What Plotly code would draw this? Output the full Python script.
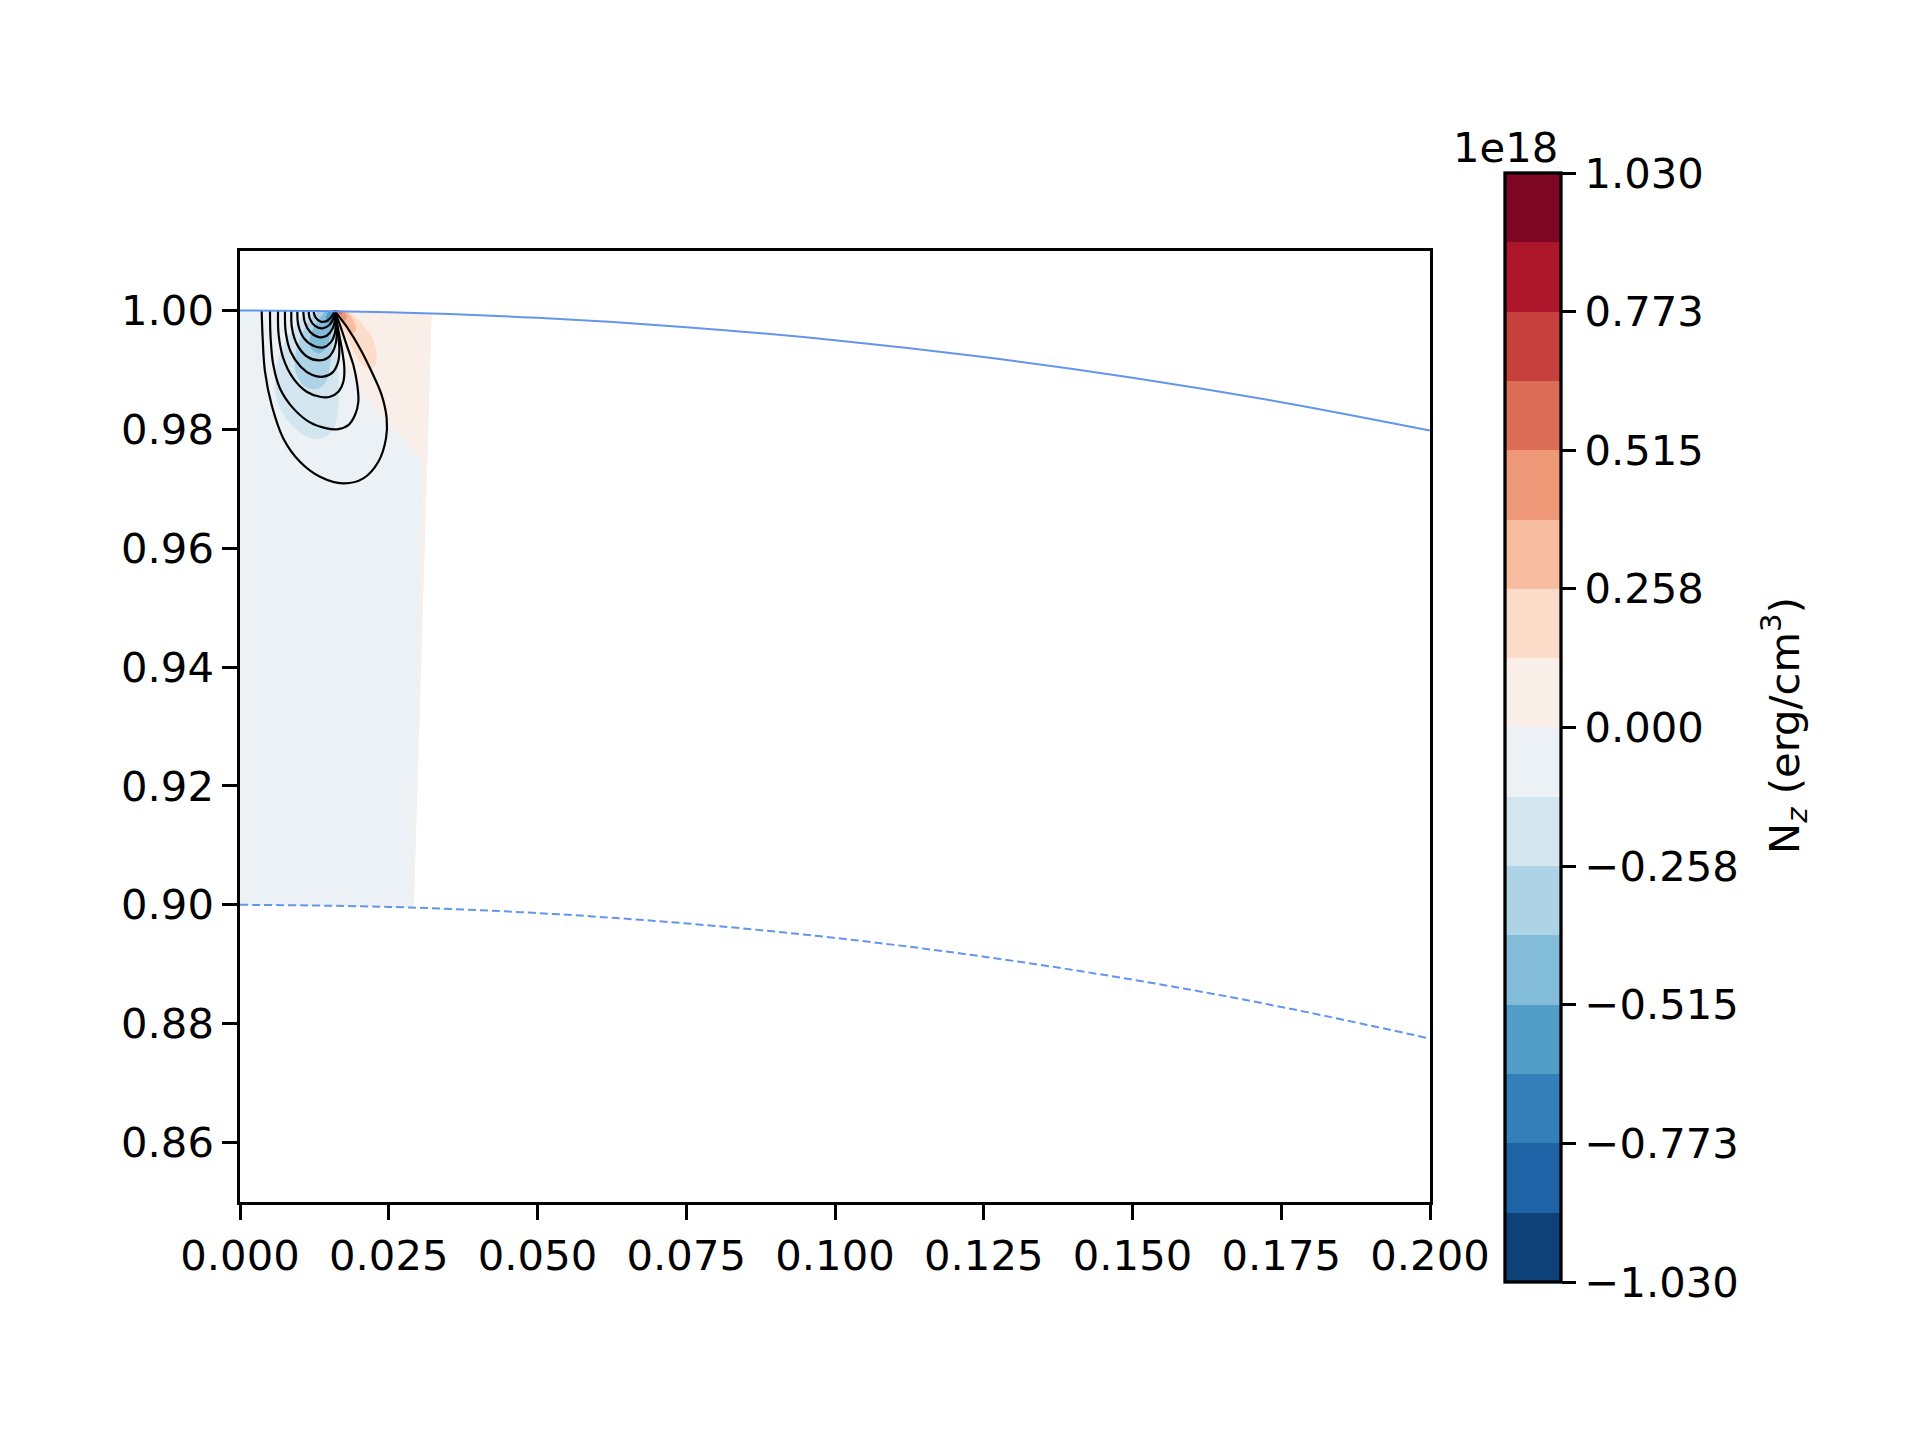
import plotly.graph_objects as go

# ---------------- data ----------------
# colour levels of N_z, in units of 1e18 erg/cm^3
cbar_min = -1.03
cbar_max = 1.03
n_bands = 16
cbar_tickvals = [-1.03, -0.7725, -0.515, -0.2575, 0.0, 0.2575, 0.515, 0.7725, 1.03]
cbar_ticktext = ["\u22121.030", "\u22120.773", "\u22120.515", "\u22120.258", "0.000",
                 "0.258", "0.515", "0.773", "1.030"]

x_ticks = [0.0, 0.025, 0.05, 0.075, 0.1, 0.125, 0.15, 0.175, 0.2]
y_ticks = [0.86, 0.88, 0.90, 0.92, 0.94, 0.96, 0.98, 1.00]

# outer boundary (solid) and inner boundary (dashed)
surface_x = [0.0, 0.025, 0.05, 0.075, 0.1, 0.125, 0.15, 0.175, 0.2]
surface_y = [1.0, 0.99969, 0.99875, 0.99718, 0.99499, 0.99216, 0.98869, 0.98457, 0.97980]
inner_x = [0.0, 0.025, 0.05, 0.075, 0.1, 0.125, 0.15, 0.175, 0.2]
inner_y = [0.9, 0.89965, 0.89861, 0.89687, 0.89443, 0.89128, 0.88741, 0.88282, 0.87750]

# filled N_z regions (band index 0..15, lowest first)
wedge_x = [0.0, 0.0, 0.01, 0.02, 0.0322, 0.0292, 0.02, 0.01, 0.0]
wedge_y = [0.9, 1.0, 0.99995, 0.9998, 0.99948, 0.89953, 0.89978, 0.89994, 0.9]
wedge_band = 7

pos_x = [0.016, 0.02, 0.0322, 0.0292, 0.0290, 0.0300, 0.0307, 0.03048, 0.02689,
         0.02409, 0.02129, 0.01849, 0.01681, 0.01636, 0.016]
pos_y = [1.0, 0.9998, 0.99948, 0.89953, 0.89955, 0.94, 0.9715, 0.9751, 0.97903,
         0.98183, 0.9852, 0.98969, 0.99473, 0.99866, 1.0]
pos_band = 8

neg1_x = [0.0112, 0.0098, 0.00784, 0.00644, 0.00588, 0.00627, 0.00812, 0.01092, 0.01317,
          0.01485, 0.01597, 0.01653, 0.01658, 0.01641, 0.01625, 0.01608, 0.01591]
neg1_y = [1.0, 0.9981, 0.99529, 0.99193, 0.98856, 0.98464, 0.98127, 0.97892, 0.97836,
          0.97903, 0.98071, 0.98408, 0.98744, 0.99137, 0.99529, 0.9981, 1.0]
neg1_band = 6

neg2_x = [0.01317, 0.01148, 0.01008, 0.00924, 0.00952, 0.01092, 0.01277, 0.01429, 0.01501,
          0.01541, 0.01569, 0.01591, 0.01597]
neg2_y = [1.0, 0.9981, 0.99529, 0.99193, 0.98912, 0.98716, 0.98677, 0.98772, 0.98997,
          0.99305, 0.99585, 0.99866, 1.0]
neg2_band = 5

neg3_x = [0.01445, 0.013, 0.01188, 0.01188, 0.01317, 0.01445, 0.01513, 0.01563, 0.01591]
neg3_y = [1.0, 0.9981, 0.99585, 0.99372, 0.99277, 0.99361, 0.99557, 0.99782, 0.99978]
neg3_band = 4

neg4_x = [0.01501, 0.01445, 0.01468, 0.01541, 0.01585]
neg4_y = [1.0, 0.99894, 0.99782, 0.99838, 0.99978]
neg4_band = 3

pos1_x = [0.01613, 0.01821, 0.02045, 0.0223, 0.02297, 0.02269, 0.02174, 0.02028, 0.0186,
          0.01725, 0.01636]
pos1_y = [1.0, 0.99975, 0.99782, 0.99529, 0.99249, 0.99069, 0.99013, 0.99125, 0.99417,
          0.99698, 0.99922]
pos1_band = 9

pos2_x = [0.01625, 0.01782, 0.01905, 0.0195, 0.01877, 0.01765, 0.01658]
pos2_y = [1.0, 0.99978, 0.99838, 0.99669, 0.99613, 0.99754, 0.99922]
pos2_band = 10

pos3_x = [0.01636, 0.01737, 0.01804, 0.01748, 0.01664]
pos3_y = [1.0, 0.99978, 0.99877, 0.99832, 0.99933]
pos3_band = 11

pos4_x = [0.01636, 0.01703, 0.01714, 0.01658]
pos4_y = [1.0, 0.99984, 0.99933, 0.99956]
pos4_band = 12

# black field-line loops (all meet at x=0.016 on the surface)
loop1_x = [0.00364, 0.00381, 0.0042, 0.00532, 0.00728, 0.01008, 0.01345, 0.01737, 0.02073,
           0.02325, 0.02454, 0.02465, 0.02381, 0.02213, 0.02017, 0.01793, 0.01625, 0.016]
loop1_y = [1.0, 0.99529, 0.98969, 0.98408, 0.97847, 0.97454, 0.97202, 0.9709, 0.97174,
           0.97454, 0.97847, 0.98183, 0.98576, 0.98969, 0.99361, 0.99726, 0.9995, 1.0]
loop2_x = [0.00504, 0.00515, 0.0056, 0.00672, 0.00896, 0.01176, 0.01457, 0.01653, 0.01821,
           0.01933, 0.01989, 0.01972, 0.01905, 0.01793, 0.01681, 0.01608, 0.016]
loop2_y = [1.0, 0.99529, 0.99081, 0.98688, 0.98352, 0.98116, 0.98015, 0.98004, 0.98071,
           0.9824, 0.98464, 0.98744, 0.99081, 0.99417, 0.99754, 0.9995, 1.0]
loop3_x = [0.00639, 0.0065, 0.00728, 0.00896, 0.0112, 0.01345, 0.01513, 0.01653, 0.01737,
           0.01754, 0.0172, 0.01669, 0.01619, 0.016]
loop3_y = [1.0, 0.99585, 0.99193, 0.98856, 0.98632, 0.98548, 0.98548, 0.98632, 0.988,
           0.99025, 0.99305, 0.99585, 0.99866, 1.0]
loop4_x = [0.00756, 0.00768, 0.00852, 0.0102, 0.01216, 0.01401, 0.01557, 0.01647, 0.01669,
           0.01641, 0.01608, 0.016]
loop4_y = [1.0, 0.99641, 0.99305, 0.99053, 0.98913, 0.98885, 0.98958, 0.99126, 0.99361,
           0.99641, 0.99894, 1.0]
loop5_x = [0.00863, 0.00874, 0.00964, 0.01132, 0.01328, 0.01485, 0.01585, 0.01625, 0.01613, 0.016]
loop5_y = [1.0, 0.99698, 0.99417, 0.99221, 0.99159, 0.9921, 0.99361, 0.99557, 0.9981, 1.0]
loop6_x = [0.00964, 0.0098, 0.01076, 0.01244, 0.01401, 0.01524, 0.01597, 0.01608, 0.016]
loop6_y = [1.0, 0.99754, 0.99529, 0.994, 0.99378, 0.99462, 0.9963, 0.99838, 1.0]
loop7_x = [0.01064, 0.01087, 0.01176, 0.01322, 0.01457, 0.01552, 0.01597, 0.016]
loop7_y = [1.0, 0.9981, 0.99641, 0.99552, 0.99574, 0.99686, 0.99855, 1.0]
loop8_x = [0.01154, 0.01176, 0.01266, 0.01389, 0.01501, 0.01574, 0.016]
loop8_y = [1.0, 0.99855, 0.99737, 0.99698, 0.99754, 0.99877, 1.0]
loop9_x = [0.01232, 0.01266, 0.01361, 0.01473, 0.01557, 0.016]
loop9_y = [1.0, 0.99889, 0.9981, 0.99832, 0.99922, 1.0]

# ---------------- styling ----------------
FONT = "DejaVu Sans"
FS = 41.7
RDBU_R = [(5, 48, 97), (33, 102, 172), (67, 147, 195), (146, 197, 222), (209, 229, 240),
          (247, 247, 247), (253, 219, 199), (244, 165, 130), (214, 96, 77), (178, 24, 43),
          (103, 0, 31)]


def rdbu_r(t):
    s = t * 10
    i = min(int(s), 9)
    f = s - i
    a, b = RDBU_R[i], RDBU_R[i + 1]
    return "rgb(%d,%d,%d)" % tuple(round(a[j] + (b[j] - a[j]) * f) for j in range(3))


band_colors = [rdbu_r((2 * k + 1) / (2 * n_bands)) for k in range(n_bands)]
colorscale = []
for k, c in enumerate(band_colors):
    colorscale.append([k / n_bands, c])
    colorscale.append([(k + 1) / n_bands, c])

fig = go.Figure()

regions = [
    (wedge_x, wedge_y, wedge_band, "linear"),
    (pos_x, pos_y, pos_band, "linear"),
    (neg1_x, neg1_y, neg1_band, "spline"),
    (neg2_x, neg2_y, neg2_band, "spline"),
    (neg3_x, neg3_y, neg3_band, "spline"),
    (neg4_x, neg4_y, neg4_band, "spline"),
    (pos1_x, pos1_y, pos1_band, "spline"),
    (pos2_x, pos2_y, pos2_band, "spline"),
    (pos3_x, pos3_y, pos3_band, "spline"),
    (pos4_x, pos4_y, pos4_band, "spline"),
]
for rx, ry, band, shape in regions:
    fig.add_trace(go.Scatter(x=rx, y=ry, mode="lines", fill="toself",
                             fillcolor=band_colors[band],
                             line=dict(width=0, shape=shape, color=band_colors[band]),
                             hoverinfo="skip", showlegend=False))

loops = [(loop1_x, loop1_y), (loop2_x, loop2_y), (loop3_x, loop3_y), (loop4_x, loop4_y),
         (loop5_x, loop5_y), (loop6_x, loop6_y), (loop7_x, loop7_y), (loop8_x, loop8_y),
         (loop9_x, loop9_y)]
for lx, ly in loops:
    fig.add_trace(go.Scatter(x=lx, y=ly, mode="lines",
                             line=dict(color="black", width=2.2, shape="spline", smoothing=1.0),
                             hoverinfo="skip", showlegend=False))

fig.add_trace(go.Scatter(x=surface_x, y=surface_y, mode="lines",
                         line=dict(color="#6495ED", width=2, shape="spline"),
                         showlegend=False, hoverinfo="skip"))
fig.add_trace(go.Scatter(x=inner_x, y=inner_y, mode="lines",
                         line=dict(color="#6495ED", width=2, dash="8px,4px", shape="spline"),
                         showlegend=False, hoverinfo="skip"))

# colour bar carrier
fig.add_trace(go.Scatter(
    x=[None], y=[None], mode="markers", showlegend=False, hoverinfo="skip",
    marker=dict(color=[0.0], colorscale=colorscale, cmin=cbar_min, cmax=cbar_max,
                showscale=True,
                colorbar=dict(
                    x=(1505 - 240) / 1190, xanchor="left", xpad=0,
                    y=(1202 - 727.5) / 951, yanchor="middle", ypad=0,
                    len=1109, lenmode="pixels",
                    thickness=56, thicknessmode="pixels",
                    outlinewidth=3.3, outlinecolor="black",
                    tickmode="array", tickvals=cbar_tickvals, ticktext=cbar_ticktext,
                    ticks="outside", ticklen=14, tickwidth=3.3, tickcolor="black",
                    tickfont=dict(family=FONT, size=FS, color="black"),
                ))))

axis_common = dict(showline=True, linecolor="black", linewidth=3.3, mirror=True,
                   ticks="outside", ticklen=14.6, tickwidth=3.3, tickcolor="black",
                   showgrid=False, zeroline=False,
                   tickfont=dict(family=FONT, size=FS, color="black"))

# the page adds an 8px body margin, so the margins are reduced by 8px on top/left
fig.update_layout(
    width=1920, height=1440,
    margin=dict(l=232, r=498, t=243, b=246, pad=0),
    paper_bgcolor="white", plot_bgcolor="white",
    font=dict(family=FONT, size=FS, color="black"),
    xaxis=dict(range=[0, 0.2], tickmode="array", tickvals=x_ticks,
               ticktext=["%.3f" % v for v in x_ticks], **axis_common),
    yaxis=dict(range=[0.85, 1.01], tickmode="array", tickvals=y_ticks,
               ticktext=["%.2f" % v for v in y_ticks], **axis_common),
    annotations=[
        dict(text="N<sub><i>z</i></sub> (erg/cm<sup>3</sup>)", textangle=-90,
             xref="paper", yref="paper", x=(1784 - 240) / 1190, y=(1202 - 726) / 951,
             xanchor="center", yanchor="middle", showarrow=False,
             font=dict(family=FONT, size=FS, color="black")),
        dict(text="1e18", xref="paper", yref="paper",
             x=(1560 - 240) / 1190, y=(1202 - 147) / 951,
             xanchor="right", yanchor="middle", showarrow=False,
             font=dict(family=FONT, size=FS, color="black")),
    ],
)

fig.write_html("out.html")
